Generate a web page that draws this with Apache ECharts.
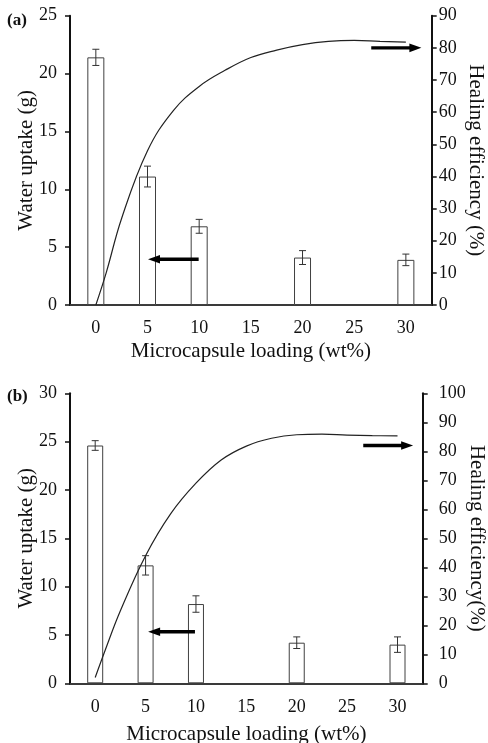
<!DOCTYPE html>
<html>
<head>
<meta charset="utf-8">
<script src="https://cdn.jsdelivr.net/npm/echarts@6/dist/echarts.min.js"></script>
<style>
html,body{margin:0;padding:0;background:#fff;}
#chart{width:488px;height:743px;}
</style>
</head>
<body>
<div id="chart"></div>
<script>
// ---- data ----
const categories = ['0', '5', '10', '15', '20', '25', '30'];
// panel (a): water uptake bars (g) and error
const uptakeA    = [21.4, 11.1, 6.8, null, 4.1, null, 3.9];
const uptakeErrA = [0.7, 0.9, 0.6, null, 0.6, null, 0.5];
// panel (a): healing efficiency curve (wt%, %)
const healLoadA  = [0, 1, 2.5, 5, 7.5, 10, 12.5, 15, 17.5, 20, 22.5, 25, 27.5, 30];
const healA      = [0, 10, 27, 48, 60.5, 68, 73, 77, 79.3, 81, 82, 82.3, 82, 81.8];
// panel (b)
const uptakeB    = [24.6, 12.2, 8.2, null, 4.2, null, 4.0];
const uptakeErrB = [0.5, 1.0, 0.85, null, 0.6, null, 0.8];
const healLoadB  = [0, 1, 2.5, 5, 7.5, 10, 12.5, 15, 17.5, 20, 22.5, 25, 27.5, 30];
const healB      = [2, 11.5, 25, 44, 58.5, 69, 77, 81.8, 84.5, 85.7, 85.9, 85.6, 85.4, 85.3];
// axis ticks
const leftTicksA  = {min: 0, max: 25, interval: 5};
const rightTicksA = {min: 0, max: 90, interval: 10};
const leftTicksB  = {min: 0, max: 30, interval: 5};
const rightTicksB = {min: 0, max: 100, interval: 10};

const FONT = 'Liberation Serif';
const chart = echarts.init(document.getElementById('chart'), null, {renderer: 'canvas'});

function errData(vals, errs) {
  const out = [];
  vals.forEach((v, i) => { if (v != null) out.push([i, v - errs[i], v + errs[i]]); });
  return out;
}
function errRender(params, api) {
  const x = api.value(0), lo = api.value(1), hi = api.value(2);
  const pt = api.coord([x, hi]), pb = api.coord([x, lo]);
  const w = 3.5;
  const st = {stroke: '#333', lineWidth: 1};
  return {type: 'group', children: [
    {type: 'line', shape: {x1: pt[0], y1: pt[1], x2: pb[0], y2: pb[1]}, style: st},
    {type: 'line', shape: {x1: pt[0] - w, y1: pt[1], x2: pt[0] + w, y2: pt[1]}, style: st},
    {type: 'line', shape: {x1: pb[0] - w, y1: pb[1], x2: pb[0] + w, y2: pb[1]}, style: st}
  ]};
}
function pairs(xs, ys) { return xs.map((x, i) => [x, ys[i]]); }

function xAxisCfg(grid, nameGap, labelMargin) {
  return {
    type: 'category', gridIndex: grid, data: categories, boundaryGap: true,
    name: 'Microcapsule loading (wt%)', nameLocation: 'middle', nameGap: nameGap,
    nameMoveOverlap: false,
    nameTextStyle: {fontFamily: FONT, fontSize: 21, color: '#111'},
    axisLine: {onZero: false, lineStyle: {color: '#3a3a3a', width: 2}},
    axisTick: {show: false},
    axisLabel: {fontFamily: FONT, fontSize: 18, color: '#111', margin: labelMargin, interval: 0},
    splitLine: {show: false}
  };
}
// hidden linear loading axis sharing the category spacing (7 slots of 5 wt%)
function loadAxisCfg(grid) {
  return {type: 'value', gridIndex: grid, min: -2.5, max: 32.5, show: false,
          axisLine: {onZero: false}, splitLine: {show: false}};
}
function yAxisCfg(grid, ticks, pos, name, nameGap, labelMargin) {
  return {
    type: 'value', gridIndex: grid, position: pos,
    min: ticks.min, max: ticks.max, interval: ticks.interval,
    name: name, nameLocation: 'middle', nameGap: nameGap, nameMoveOverlap: false,
    nameRotate: pos === 'left' ? 90 : -90,
    nameTextStyle: {fontFamily: FONT, fontSize: 21, color: '#111'},
    axisLine: {show: true, onZero: false, lineStyle: {color: '#111', width: 2}},
    axisTick: {show: true, inside: false, length: 5, lineStyle: {color: '#111', width: 1.5}},
    axisLabel: {fontFamily: FONT, fontSize: 18, color: '#111', margin: labelMargin},
    splitLine: {show: false}
  };
}

const option = {
  animation: false,
  backgroundColor: '#fff',
  title: [
    {text: '(a)', left: 7, top: 12, padding: 0, textStyle: {fontFamily: FONT, fontSize: 17, fontWeight: 'bold', color: '#111'}},
    {text: '(b)', left: 7, top: 388, padding: 0, textStyle: {fontFamily: FONT, fontSize: 17, fontWeight: 'bold', color: '#111'}}
  ],
  grid: [
    {left: 70, right: 56.3, top: 15.7, height: 289.3, outerBoundsMode: 'none', containLabel: false},
    {left: 70, right: 65.3, top: 393.3, height: 290, outerBoundsMode: 'none', containLabel: false}
  ],
  xAxis: [xAxisCfg(0, 36, 14), xAxisCfg(1, 41, 15), loadAxisCfg(0), loadAxisCfg(1)],
  yAxis: [
    yAxisCfg(0, leftTicksA, 'left', 'Water uptake (g)', 33, 13),
    yAxisCfg(0, rightTicksA, 'right', 'Healing efficiency (%)', 33, 7),
    yAxisCfg(1, leftTicksB, 'left', 'Water uptake (g)', 33, 13),
    yAxisCfg(1, rightTicksB, 'right', 'Healing efficiency(%)', 43, 16)
  ],
  series: [
    {type: 'bar', xAxisIndex: 0, yAxisIndex: 0, data: uptakeA, barWidth: 17,
     itemStyle: {color: '#fff', borderColor: '#404040', borderWidth: 1}},
    {type: 'custom', xAxisIndex: 0, yAxisIndex: 0, data: errData(uptakeA, uptakeErrA), renderItem: errRender, z: 5},
    {type: 'line', xAxisIndex: 2, yAxisIndex: 1, data: pairs(healLoadA, healA), smooth: 0.4, showSymbol: false,
     lineStyle: {color: '#222', width: 1.2}, z: 6},
    {type: 'bar', xAxisIndex: 1, yAxisIndex: 2, data: uptakeB, barWidth: 16,
     itemStyle: {color: '#fff', borderColor: '#404040', borderWidth: 1}},
    {type: 'custom', xAxisIndex: 1, yAxisIndex: 2, data: errData(uptakeB, uptakeErrB), renderItem: errRender, z: 5},
    {type: 'line', xAxisIndex: 3, yAxisIndex: 3, data: pairs(healLoadB, healB), smooth: 0.4, showSymbol: false,
     lineStyle: {color: '#222', width: 1.2}, z: 6}
  ]
};
chart.setOption(option);

// ---- arrow annotations (loading wt% on hidden axis / axis value) ----
const arrows = [
  {x: 2, y: 0, from: 9.95, to: 5.05, val: 3.95},
  {x: 2, y: 1, from: 26.65, to: 31.5, val: 80},
  {x: 3, y: 2, from: 9.9, to: 5.25, val: 5.34},
  {x: 3, y: 3, from: 26.6, to: 31.55, val: 82}
];
const gfx = [];
arrows.forEach(a => {
  const xs = chart.convertToPixel({xAxisIndex: a.x}, a.from);
  const xe = chart.convertToPixel({xAxisIndex: a.x}, a.to);
  const yy = chart.convertToPixel({yAxisIndex: a.y}, a.val);
  const dir = xe > xs ? 1 : -1;
  const headLen = 12, headHalf = 4.3;
  const xb = xe - dir * headLen;
  gfx.push({type: 'line', shape: {x1: xs, y1: yy, x2: xb + dir * 1, y2: yy},
            style: {stroke: '#000', lineWidth: 3.4}, z: 10});
  gfx.push({type: 'polygon', shape: {points: [[xe, yy], [xb, yy - headHalf], [xb, yy + headHalf]]},
            style: {fill: '#000'}, z: 10});
});
chart.setOption({graphic: gfx});
</script>
</body>
</html>
